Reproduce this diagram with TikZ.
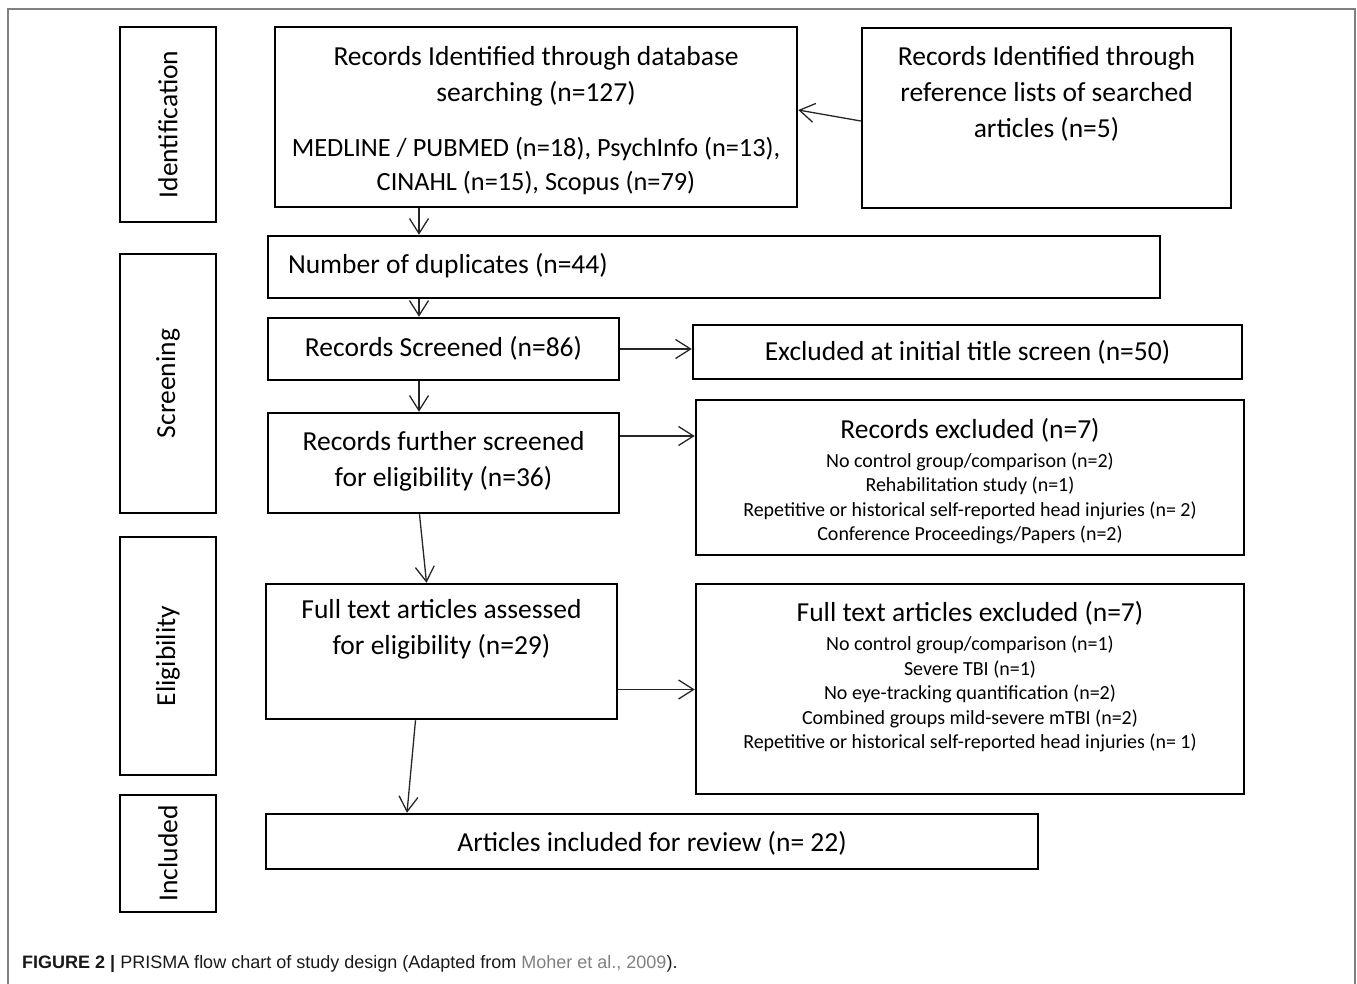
\documentclass[tikz,border=0pt]{standalone}
\usepackage{fontspec}
\setmainfont{Carlito}
\newfontfamily\capfont{Liberation Sans}
\usetikzlibrary{arrows.meta}
\definecolor{capgray}{RGB}{128,128,128}
\newcommand{\bigtxt}{\fontsize{27.5}{36}\selectfont}
\newcommand{\midtxt}{\fontsize{26.3}{34}\selectfont}
\newcommand{\smalltxt}{\fontsize{20}{24.5}\selectfont}
\tikzset{
  box/.style={draw, line width=2.5pt, inner sep=0pt, align=center, font=\bigtxt},
  phase/.style={box, rotate=90, minimum height=96pt},
  listbox/.style={box, font=\smalltxt},
  arr/.style={-{Straight Barb[length=15pt,width=19pt]}, line width=1.3pt, draw=black!85}
}
\begin{document}
\begin{tikzpicture}[x=1pt,y=-1pt]
      \useasboundingbox (0,0) rectangle (1357,984);
      \draw[capgray, line width=1.5pt] (8,984) -- (8,9) -- (1355,9) -- (1355,984);
      % phases
      \node[phase, minimum width=195pt] (ident) at (168,124.5) {Identification};
      \node[phase, minimum width=259pt] (scr) at (168,383.5) {Screening};
      \node[phase, minimum width=238pt] (elig) at (168,656) {Eligibility};
      \node[phase, minimum width=117pt] (incl) at (168,853.5) {Included};
      % boxes
      \node[box, minimum width=522pt, minimum height=180pt] (db) at (536,117)
        {\rule{0pt}{26pt}Records Identified through database\\searching (n=127)\\[19pt]
         \midtxt MEDLINE / PUBMED (n=18), PsychInfo (n=13),\\[-2pt]
         \midtxt CINAHL (n=15), Scopus (n=79)};
      \node[box, minimum width=369pt, minimum height=180pt] (refs) at (1046.5,118)
        {Records Identified through\\reference lists of searched\\articles (n=5)\rule[-52pt]{0pt}{0pt}};
      \node[box, minimum width=892pt, minimum height=62pt, inner xsep=20pt,
            text width=852pt, align=flush left] (dup) at (714,267)
        {Number of duplicates (n=44)\rule[-7pt]{0pt}{0pt}};
      \node[box, minimum width=351pt, minimum height=62pt] (screened) at (443.5,349)
        {Records Screened (n=86)\rule[-6pt]{0pt}{0pt}};
      \node[box, minimum width=549pt, minimum height=54pt] (excl) at (967.5,352)
        {Excluded at initial title screen (n=50)};
      \node[box, minimum width=351pt, minimum height=100pt] (further) at (443.5,463)
        {Records further screened\\for eligibility (n=36)\rule[-8pt]{0pt}{0pt}};
      \node[listbox, minimum width=548pt, minimum height=155pt] (recexcl) at (970,477.5)
        {{\bigtxt\rule{0pt}{27pt}Records excluded (n=7)}\\[4.5pt]
         No control group/comparison (n=2)\\
         Rehabilitation study (n=1)\\
         Repetitive or historical self-reported head injuries (n= 2)\\
         Conference Proceedings/Papers (n=2)};
      \node[box, minimum width=351pt, minimum height=135pt] (full) at (441.5,651.5)
        {Full text articles assessed\\for eligibility (n=29)\rule[-50pt]{0pt}{0pt}};
      \node[listbox, minimum width=548pt, minimum height=210pt] (fullexcl) at (970,689)
        {{\bigtxt Full text articles excluded (n=7)}\\[4.5pt]
         No control group/comparison (n=1)\\
         Severe TBI (n=1)\\
         No eye-tracking quantification (n=2)\\
         Combined groups mild-severe mTBI (n=2)\\
         Repetitive or historical self-reported head injuries (n= 1)\rule[-28pt]{0pt}{0pt}};
      \node[box, minimum width=772pt, minimum height=55pt] (included) at (652,841.5)
        {\rule{0pt}{24pt}Articles included for review (n= 22)};
      % caption
      \node[anchor=west, inner sep=0pt, font=\capfont\fontsize{18}{22}\selectfont, text=black!90] (cap) at (22,964)
        {\textbf{FIGURE 2 |} PRISMA flow chart of study design (Adapted from \textcolor{capgray}{Moher et al., 2009}).};
      % arrows
      \coordinate (sp) at (419,0);
      \begin{scope}[arr]
        \draw ([yshift=-3pt]refs.west) -- ([yshift=7pt]db.east);
        \draw (db.south -| sp) -- (dup.north -| sp);
        \draw (dup.south -| sp) -- (screened.north -| sp);
        \draw (screened.south -| sp) -- (further.north -| sp);
        \draw (screened.east) -- (screened.east -| excl.west);
        \draw ([yshift=27pt]further.east) -- ([yshift=27pt]further.east -| recexcl.west);
        \draw ([xshift=-24pt]further.south) -- ([xshift=-15pt]full.north);
        \draw ([yshift=-38pt]full.east) -- ([yshift=-38pt]full.east -| fullexcl.west);
        \draw ([xshift=-26pt]full.south) -- ([xshift=-245pt]included.north);
      \end{scope}
    \end{tikzpicture}
\end{document}
